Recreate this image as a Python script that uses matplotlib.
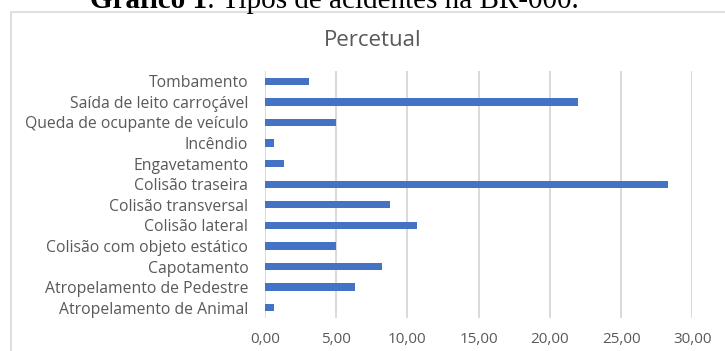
import matplotlib
matplotlib.use('Agg')
import matplotlib.pyplot as plt
from matplotlib.patches import Rectangle

# dados (de baixo para cima)
categorias = ['Atropelamento de Animal', 'Atropelamento de Pedestre', 'Capotamento',
              'Colisão com objeto estático', 'Colisão lateral', 'Colisão transversal',
              'Colisão traseira', 'Engavetamento', 'Incêndio',
              'Queda de ocupante de veículo', 'Saída de leito carroçável', 'Tombamento']
percentual = [0.6, 6.3, 8.2, 5.0, 10.7, 8.8, 28.3, 1.3, 0.6, 5.0, 22.0, 3.1]
xticks = [0, 5, 10, 15, 20, 25, 30]
xtick_labels = ['0,00', '5,00', '10,00', '15,00', '20,00', '25,00', '30,00']

W, H = 725, 351
fig = plt.figure(figsize=(W / 100, H / 100), dpi=100)
fig.patch.set_facecolor('white')

# moldura do gráfico (sai da imagem à direita e embaixo)
fig.patches.append(Rectangle((11 / W, -0.1), 1.0, (H - 12) / H + 0.1,
                             transform=fig.transFigure, fill=False,
                             edgecolor='#D9D9D9', linewidth=1.2))

# titulo da figura (cortado no topo, como no original)
t1 = fig.text(90 / W, (H - 8) / H, 'Gráfico 1', fontfamily='Liberation Serif',
              fontweight='bold', fontsize=21, ha='left', va='baseline')
fig.canvas.draw()
bb = t1.get_window_extent()
fig.text(bb.x1 / W, (H - 8) / H, ': Tipos de acidentes na BR-000.', fontfamily='Liberation Serif',
         fontsize=21, ha='left', va='baseline')

ax = fig.add_axes([265 / W, (H - 318) / H, (692.3 - 265) / W, (318 - 71) / H])
ax.barh(range(len(categorias)), percentual, height=0.36, color='#4472C4', zorder=3)
ax.set_xlim(0, 30)
ax.set_ylim(-0.5, len(categorias) - 0.5)
ax.set_yticks(range(len(categorias)))
ax.set_yticklabels(categorias)
ax.set_xticks(xticks)
ax.set_xticklabels(xtick_labels)
ax.grid(axis='x', color='#D9D9D9', linewidth=1.4, zorder=0)
ax.set_axisbelow(True)
for s in ax.spines.values():
    s.set_visible(False)
ax.tick_params(length=0, colors='#595959')
ax.tick_params(axis='y', pad=12, labelsize=11.3)
ax.tick_params(axis='x', pad=10, labelsize=11)
for lbl in ax.get_xticklabels() + ax.get_yticklabels():
    lbl.set_fontfamily('Open Sans')

fig.text(373 / W, (H - 40) / H, 'Percetual', fontfamily='Open Sans', fontsize=16,
         color='#595959', ha='center', va='center')

fig.savefig('out.png', dpi=100)
